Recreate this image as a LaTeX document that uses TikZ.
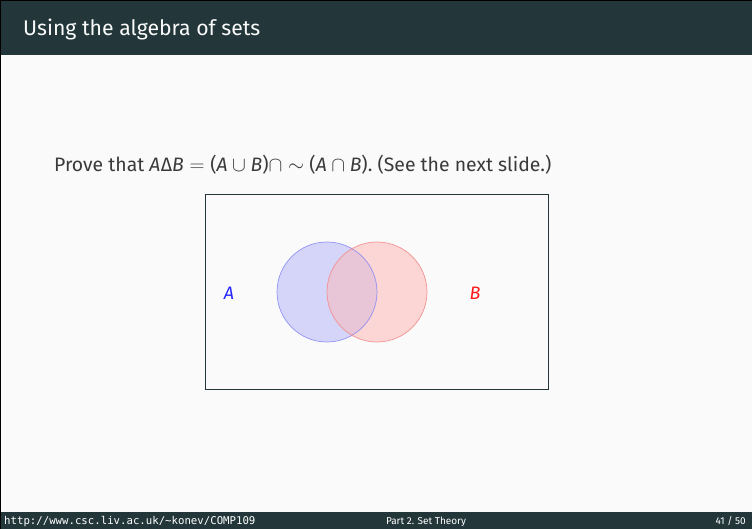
\documentclass[tikz,border=0pt]{standalone}
\usepackage{fontspec}
\setmainfont{Fira Sans}
\setmonofont{DejaVu Sans Mono}
\usetikzlibrary{positioning}
\definecolor{mDarkTeal}{HTML}{23373B}
\definecolor{mBg}{HTML}{FAFAFA}
\definecolor{mText}{HTML}{3A3A3A}
\definecolor{setAfill}{HTML}{D5D5FA}
\definecolor{setBfill}{HTML}{FCD5D5}
\definecolor{setABfill}{HTML}{E8C6D8}
\definecolor{setAline}{HTML}{8A8AF2}
\definecolor{setBline}{HTML}{F28A8A}
\newcommand{\mA}{\textit{A}}
\newcommand{\mB}{\textit{B}}

\begin{document}
\begin{tikzpicture}[x=1pt,y=-1pt,
  bar/.style={fill=mDarkTeal,draw=none},
  setcircle/.style={circle,minimum size=100pt,inner sep=0pt},
  setA/.style={setcircle,fill=setAfill},
  setB/.style={setcircle,fill=setBfill},
  rim/.style={line width=0.7pt,opacity=0.9},
  foot/.style={text=white,font=\fontsize{10}{12}\selectfont,inner sep=0pt,anchor=base},
]
\useasboundingbox (0,0) rectangle (752,529);
% Background and bars
\fill[mBg] (0,0) rectangle (752,529);
\fill[bar] (0,0) rectangle (752,55);
\fill[bar] (0,512) rectangle (752,529);
\draw[black,line width=1pt] (0.5,529) -- (0.5,0.5) -- (752,0.5);

% Title
\node[text=mBg,font=\fontsize{21.2}{25}\selectfont,anchor=base west,inner sep=0pt]
  (title) at (23,36) {Using the algebra of sets};

% Statement
\node[text=mText,font=\fontsize{19.4}{23}\selectfont,anchor=base west,inner sep=0pt]
  (claim) at (54,172)
  {Prove that \mA\kern0.4pt Δ\mB${}={}$(\mA${}\cup{}$\mB)$\cap\sim$ (\mA${}\cap{}$\mB). (See the next slide.)};

% Universe
\draw[mDarkTeal,line width=0.6pt] (205,194) rectangle (548,389);

% Sets
\node[setA] (A) at (327,292) {};
\node[setB] (B) at (377,292) {};
\begin{scope}
  \clip (A.center) circle (50);
  \fill[setABfill] (B.center) circle (50);
\end{scope}
\draw[rim,setAline] (A.center) circle (50);
\draw[rim,setBline] (B.center) circle (50);
\node[text=blue!85!white,font=\fontsize{18}{20}\selectfont] (labA) at (229,293) {\mA};
\node[text=red!90!white,font=\fontsize{18}{20}\selectfont] (labB) at (475,293) {\mB};

% Footer
\node[foot,anchor=base west,font=\ttfamily\fontsize{10.7}{12}\selectfont] (url) at (4,524)
  {http://www.csc.liv.ac.uk/\string~konev/COMP109};
\node[foot] (part) at (426,524) {Part 2. Set Theory};
\node[foot,anchor=base east] (page) at (746,524) {41 / 50};
\end{tikzpicture}
\end{document}
